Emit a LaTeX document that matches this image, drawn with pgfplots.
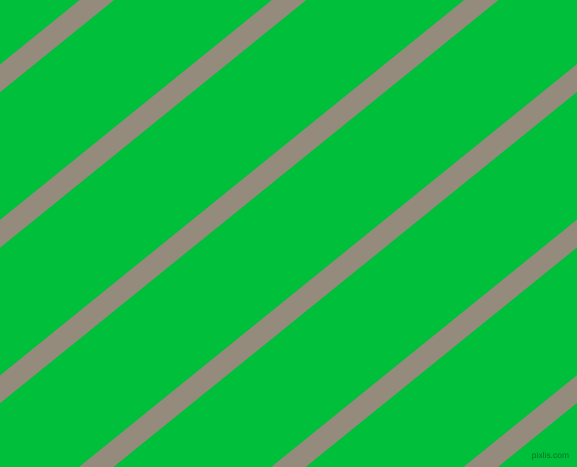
\documentclass[border=0pt]{standalone}
\usepackage{pgfplots}
\pgfplotsset{compat=1.18}
\usepackage{fontspec}
\setmainfont{Liberation Sans}

\definecolor{bggreen}{RGB}{0,191,58}
\definecolor{stripegrey}{RGB}{148,139,125}
\definecolor{markgreen}{RGB}{0,115,35}

\begin{document}
\begin{tikzpicture}
\begin{axis}[
    scale only axis,
    width=577bp, height=467bp,
    xmin=0, xmax=577, ymin=0, ymax=467,
    hide axis,
    clip=true,
    ]
% background
\addplot[draw=none, fill=bggreen] coordinates {(0,0) (577,0) (577,467) (0,467)} \closedcycle;

% diagonal stripes (slope ~0.809), centre lines
\addplot[stripegrey, line width=21.5bp] coordinates {(-60,340.1) (640,906.4)};
\addplot[stripegrey, line width=21.5bp] coordinates {(-60,184.6) (640,750.9)};
\addplot[stripegrey, line width=21.5bp] coordinates {(-60,29.1) (640,595.4)};
\addplot[stripegrey, line width=21.5bp] coordinates {(-60,-126.4) (640,439.9)};
\addplot[stripegrey, line width=21.5bp] coordinates {(-60,-281.9) (640,284.4)};
\addplot[stripegrey, line width=21.5bp] coordinates {(-60,-437.4) (640,128.9)};

\node[markgreen, font=\fontsize{8.5}{8.5}\selectfont, inner sep=0pt] at (axis cs:550.5,11) {pixlis.com};
\end{axis}
\pgfresetboundingbox
\useasboundingbox (current axis.south west) rectangle (current axis.north east);
\end{tikzpicture}
\end{document}
